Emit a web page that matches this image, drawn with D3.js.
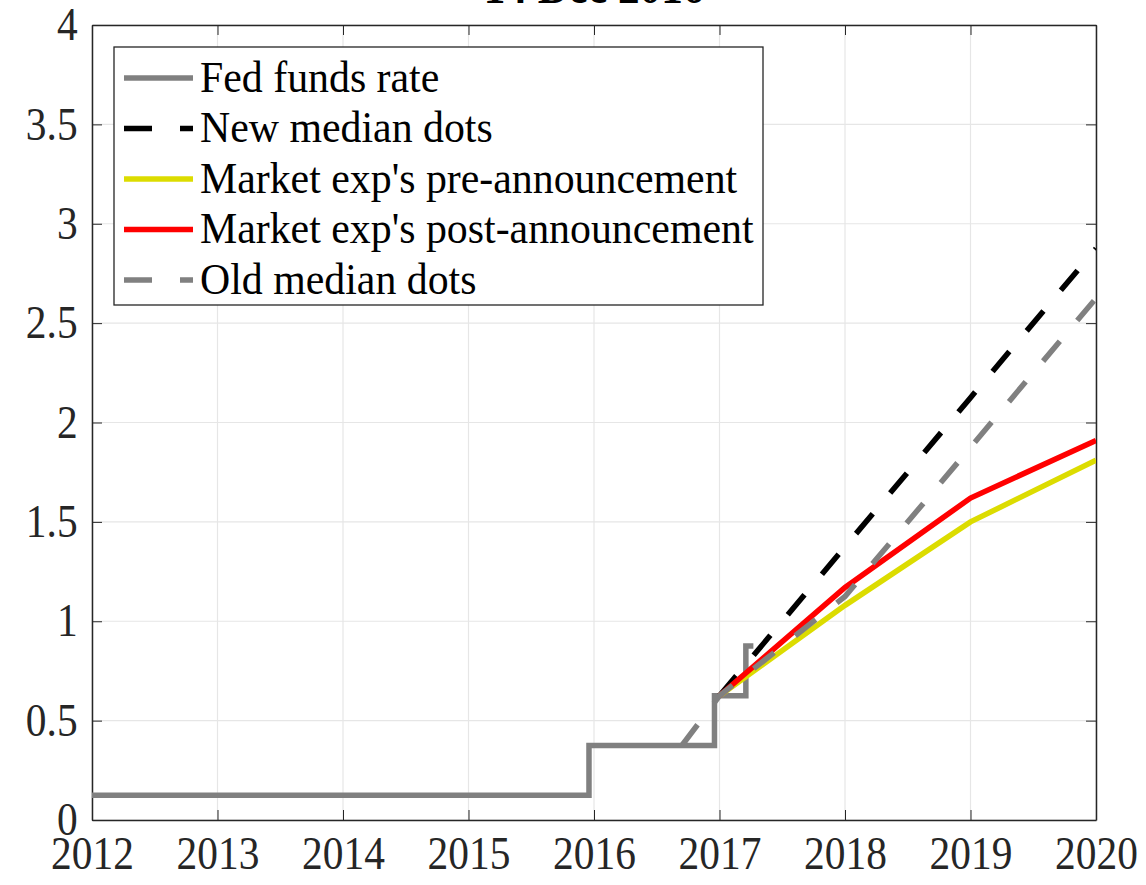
<!DOCTYPE html>
<meta charset="utf-8">
<style>
  body { margin: 0; background: #fff; }
  svg { display: block; font-family: "Liberation Serif", "DejaVu Serif", serif; }
  .axis text { fill: #262626; font-size: 40px; }
  .axis path, .axis line { stroke: #262626; }
  .grid line { stroke: #e6e6e6; stroke-width: 1.2; }
  .legend text { font-size: 40px; fill: #000; }
</style>
<body>
<script src="https://cdn.jsdelivr.net/npm/d3@7"></script>
<script>

// data (x = year, y = percent)
var fedFundsYears  = [2012, 2015.96, 2015.96, 2016.96, 2016.96, 2017.21, 2017.21, 2017.27];
var fedFundsValues = [0.125, 0.125, 0.375, 0.375, 0.625, 0.625, 0.875, 0.875];

var newDotsYears  = [2017, 2018, 2019, 2020];
var newDotsValues = [0.625, 1.375, 2.125, 2.875];

var preYears  = [2017, 2018, 2019, 2020];
var preValues = [0.625, 1.08, 1.50, 1.81];

var postYears  = [2017, 2018, 2019, 2020];
var postValues = [0.625, 1.17, 1.62, 1.91];

var oldDotsYears  = [2016.70, 2017, 2018, 2019, 2020];
var oldDotsValues = [0.375, 0.625, 1.125, 1.875, 2.625];

var xTicks = [2012, 2013, 2014, 2015, 2016, 2017, 2018, 2019, 2020];
var yTicks = [0, 0.5, 1, 1.5, 2, 2.5, 3, 3.5, 4];

var seriesNames = ["Fed funds rate", "New median dots", "Market exp's pre-announcement",
                   "Market exp's post-announcement", "Old median dots"];
var titleText = "14 Dec 2016";

var W = 1146, H = 885;
var margin = {top: 25, right: 50, bottom: 65, left: 92};
var w = W - margin.left - margin.right,
    h = H - margin.top - margin.bottom;

var svg = d3.select("body").append("svg")
    .attr("width", W)
    .attr("height", H);

var chart = svg.append("g")
    .attr("transform", "translate(" + margin.left + "," + margin.top + ")");

var x = d3.scaleLinear().domain([2012, 2020]).range([0, w]);
var y = d3.scaleLinear().domain([0, 4]).range([h, 0]);

// grid
chart.append("g").attr("class", "grid")
  .selectAll("line.gx").data(xTicks).enter().append("line")
  .attr("x1", function(d) { return x(d); }).attr("x2", function(d) { return x(d); })
  .attr("y1", 0).attr("y2", h);
chart.select("g.grid")
  .selectAll("line.gy").data(yTicks).enter().append("line")
  .attr("y1", function(d) { return y(d); }).attr("y2", function(d) { return y(d); })
  .attr("x1", 0).attr("x2", w);

// axes: ticks inside, box all round
var sx = "scale(0.9,1)";
var serif = "'Liberation Serif', 'DejaVu Serif', serif";
chart.append("g").attr("class", "axis")
  .attr("transform", "translate(0," + h + ")")
  .call(d3.axisBottom(x).tickValues(xTicks).tickFormat(d3.format("d")).tickSizeInner(-10).tickSizeOuter(0).tickPadding(16))
  .attr("font-family", serif)
  .call(function(g) {
    g.select(".domain").attr("stroke-width", 1.5);
    g.selectAll("text").attr("dy", "0.71em").attr("transform", sx).style("font-size", "46px");
  });
chart.append("g").attr("class", "axis")
  .call(d3.axisTop(x).tickValues(xTicks).tickFormat("").tickSizeInner(-10).tickSizeOuter(0))
  .call(function(g) { g.select(".domain").attr("stroke-width", 1.5); });
chart.append("g").attr("class", "axis")
  .call(d3.axisLeft(y).tickValues(yTicks).tickFormat(d3.format("")).tickSizeInner(-10).tickSizeOuter(0).tickPadding(16))
  .attr("font-family", serif)
  .call(function(g) {
    g.select(".domain").attr("stroke-width", 1.5);
    g.selectAll("text").attr("transform", sx).style("font-size", "46px");
  });
chart.append("g").attr("class", "axis")
  .attr("transform", "translate(" + w + ",0)")
  .call(d3.axisRight(y).tickValues(yTicks).tickFormat("").tickSizeInner(-10).tickSizeOuter(0))
  .call(function(g) { g.select(".domain").attr("stroke-width", 1.5); });

// title, mostly cut off at the top
svg.append("text")
  .attr("x", margin.left + w / 2)
  .attr("y", 3)
  .attr("text-anchor", "middle")
  .attr("transform", "translate(" + (margin.left + w / 2) * 0.1 + ",0) scale(0.9,1)")
  .style("font-size", "48px")
  .style("font-weight", "bold")
  .attr("fill", "#000")
  .text(titleText);

chart.append("clipPath").attr("id", "clip")
  .append("rect").attr("width", w).attr("height", h);

var line = d3.line()
  .x(function(d) { return x(d[0]); })
  .y(function(d) { return y(d[1]); });

var series = [
  {xs: fedFundsYears, ys: fedFundsValues, color: "#808080", dash: null},
  {xs: newDotsYears,  ys: newDotsValues,  color: "#000000", dash: "26,27"},
  {xs: preYears,      ys: preValues,      color: "#dcdc00", dash: null},
  {xs: postYears,     ys: postValues,     color: "#ff0000", dash: null},
  {xs: oldDotsYears,  ys: oldDotsValues,  color: "#808080", dash: "26,27"}
];

var lines = chart.append("g").attr("clip-path", "url(#clip)");
series.forEach(function(s) {
  var pts = s.xs.map(function(v, i) { return [v, s.ys[i]]; });
  lines.append("path")
    .datum(pts)
    .attr("d", line)
    .attr("fill", "none")
    .attr("stroke", s.color)
    .attr("stroke-width", 5.5)
    .attr("stroke-dasharray", s.dash)
    .attr("stroke-linejoin", "miter");
});

// legend
var lg = svg.append("g").attr("class", "legend").attr("transform", "translate(114,47)");
lg.append("rect")
  .attr("width", 649).attr("height", 258)
  .attr("fill", "#fff").attr("stroke", "#262626").attr("stroke-width", 1.3);
var ls = 0.93;
series.forEach(function(s, i) {
  var cy = 31 + i * 50.5;
  lg.append("line")
    .attr("x1", 10).attr("x2", 79).attr("y1", cy).attr("y2", cy)
    .attr("stroke", s.color).attr("stroke-width", 5.5)
    .attr("stroke-dasharray", s.dash ? "28,28" : null);
  lg.append("text")
    .attr("x", 86 / ls).attr("y", cy + 14)
    .attr("transform", "scale(" + ls + ",1)")
    .style("font-size", "45px")
    .text(seriesNames[i]);
});

</script>
</body>
